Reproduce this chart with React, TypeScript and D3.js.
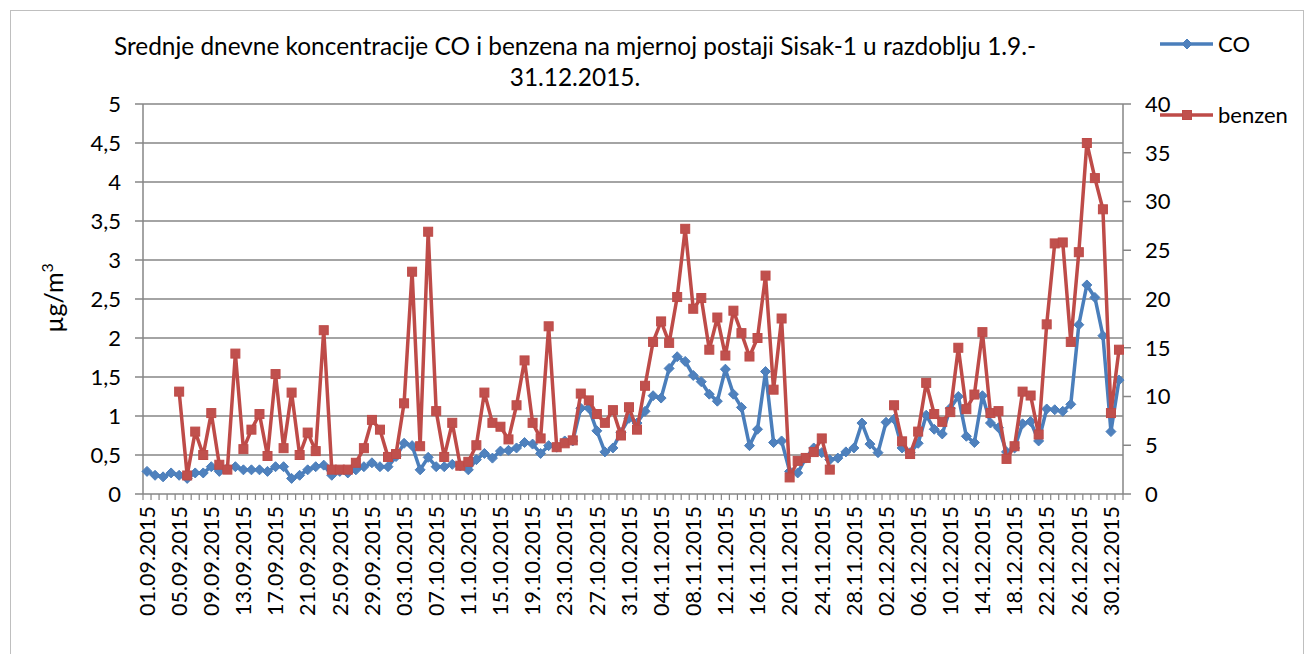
import React from 'react';
import * as d3 from 'd3';

// Categories: daily, 1.9.2015 – 31.12.2015
const days = d3.timeDay.range(new Date(2015, 8, 1), new Date(2016, 0, 1));
const fmt = d3.timeFormat('%d.%m.%Y');
const categories: string[] = days.map(fmt);

// CO (left axis, µg/m3 scale 0–5)
const coValues: number[] = [
  // September
  0.29, 0.24, 0.22, 0.27, 0.24, 0.20, 0.27, 0.27, 0.35, 0.29,
  0.33, 0.35, 0.31, 0.31, 0.31, 0.29, 0.35, 0.35, 0.20, 0.24,
  0.31, 0.35, 0.37, 0.24, 0.29, 0.27, 0.31, 0.35, 0.40, 0.35,
  // October
  0.35, 0.48, 0.65, 0.62, 0.31, 0.47, 0.35, 0.35, 0.38, 0.36,
  0.31, 0.44, 0.52, 0.46, 0.55, 0.56, 0.59, 0.66, 0.64, 0.52,
  0.62, 0.60, 0.68, 0.68, 1.10, 1.10, 0.81, 0.54, 0.59, 0.79,
  0.97,
  // November
  0.91, 1.06, 1.26, 1.23, 1.61, 1.76, 1.70, 1.52, 1.44, 1.28,
  1.19, 1.60, 1.28, 1.11, 0.62, 0.83, 1.57, 0.66, 0.68, 0.29,
  0.27, 0.46, 0.59, 0.53, 0.44, 0.46, 0.54, 0.59, 0.91, 0.64,
  // December
  0.53, 0.92, 0.96, 0.59, 0.53, 0.65, 1.01, 0.83, 0.77, 1.10,
  1.25, 0.74, 0.66, 1.26, 0.91, 0.85, 0.54, 0.59, 0.90, 0.93,
  0.68, 1.09, 1.08, 1.06, 1.15, 2.17, 2.68, 2.52, 2.03, 0.80,
  1.46,
];

// Benzen (right axis, 0–40); null = no measurement
const benzenValues: (number | null)[] = [
  // September
  null, null, null, null, 10.5, 1.9, 6.4, 4.0, 8.3, 3.0,
  2.5, 14.4, 4.6, 6.6, 8.2, 3.9, 12.3, 4.7, 10.4, 4.0,
  6.3, 4.4, 16.8, 2.5, 2.5, 2.5, 3.2, 4.7, 7.6, 6.6,
  // October
  3.8, 4.1, 9.3, 22.8, 4.9, 26.9, 8.5, 3.8, 7.3, 2.9,
  3.3, 5.0, 10.4, 7.3, 6.9, 5.6, 9.1, 13.7, 7.3, 5.7,
  17.2, 4.8, 5.2, 5.5, 10.3, 9.6, 8.2, 7.3, 8.6, 6.0,
  8.9,
  // November
  6.6, 11.1, 15.6, 17.7, 15.5, 20.2, 27.2, 19.0, 20.1, 14.8,
  18.1, 14.2, 18.8, 16.5, 14.1, 16.0, 22.4, 10.7, 18.0, 1.7,
  3.4, 3.7, 4.3, 5.7, 2.5, null, null, null, null, null,
  // December
  null, null, 9.1, 5.4, 4.1, 6.4, 11.4, 8.2, 7.4, 8.4,
  15.0, 8.7, 10.2, 16.6, 8.3, 8.5, 3.6, 4.9, 10.5, 10.1,
  6.1, 17.4, 25.7, 25.8, 15.6, 24.8, 36.0, 32.4, 29.2, 8.3,
  14.8,
];

const leftTicks = [0, 0.5, 1, 1.5, 2, 2.5, 3, 3.5, 4, 4.5, 5];
const rightTicks = [0, 5, 10, 15, 20, 25, 30, 35, 40];
const titleLines = [
  'Srednje dnevne koncentracije CO i benzena na mjernoj postaji Sisak-1 u razdoblju 1.9.-',
  '31.12.2015.',
];
const seriesNames = ['CO', 'benzen'];

const FONT = 'Lato, "Open Sans", sans-serif';
const CO_LINE = '#4a7ebb';
const CO_FILL = '#4f81bd';
const BZ_LINE = '#be4b48';
const BZ_FILL = '#c0504d';
const GRID = '#868686';

export default function App() {
  const L = 143, R = 1123, T = 104, B = 494;
  const x = d3.scaleBand<string>().domain(categories).range([L, R]);
  const cx = (c: string) => (x(c) as number) + x.bandwidth() / 2;
  const yL = d3.scaleLinear().domain([0, 5]).range([B, T]);
  const yR = d3.scaleLinear().domain([0, 40]).range([B, T]);

  const coLine = d3.line<number>()
    .x((_, i) => cx(categories[i]))
    .y((d) => yL(d));
  const bzLine = d3.line<number | null>()
    .defined((d) => d != null)
    .x((_, i) => cx(categories[i]))
    .y((d) => yR(d as number));

  const fmtTick = (v: number) => String(v).replace('.', ',');
  const diamond = (px: number, py: number, r: number) =>
    `M${px},${py - r}L${px + r},${py}L${px},${py + r}L${px - r},${py}Z`;

  return (
    <svg width={1307} height={654} style={{ position: 'absolute', left: 0, top: 0, background: '#fff' }}
      fontFamily={FONT}>
      <rect x={10.5} y={10.5} width={1293} height={660} fill="#fff" stroke="#bfbfbf" strokeWidth={1} />

      {/* Title */}
      <text x={575} y={55} textAnchor="middle" fontSize={24.4} fill="#000">{titleLines[0]}</text>
      <text x={575} y={86} textAnchor="middle" fontSize={24.4} fill="#000">{titleLines[1]}</text>

      {/* Gridlines */}
      {leftTicks.map((t) => (
        <line key={'g' + t} x1={L} x2={R} y1={yL(t)} y2={yL(t)} stroke={GRID} strokeWidth={1.5} />
      ))}
      {/* Axes */}
      <line x1={L} x2={L} y1={T} y2={B} stroke={GRID} strokeWidth={1.5} />
      <line x1={R} x2={R} y1={T} y2={B} stroke={GRID} strokeWidth={1.5} />
      {leftTicks.map((t) => (
        <g key={'lt' + t}>
          <line x1={L - 8} x2={L} y1={yL(t)} y2={yL(t)} stroke={GRID} strokeWidth={1.5} />
          <text x={L - 22} y={yL(t)} dy="0.36em" textAnchor="end" fontSize={22} fill="#000">{fmtTick(t)}</text>
        </g>
      ))}
      {rightTicks.map((t) => (
        <g key={'rt' + t}>
          <line x1={R} x2={R + 8} y1={yR(t)} y2={yR(t)} stroke={GRID} strokeWidth={1.5} />
          <text x={R + 22} y={yR(t)} dy="0.36em" textAnchor="start" fontSize={22} fill="#000">{t}</text>
        </g>
      ))}
      {/* x ticks at category boundaries */}
      {categories.concat(['__end']).map((c, i) => {
        const xx = i < categories.length ? (x(c) as number) : R;
        return <line key={'xt' + i} x1={xx} x2={xx} y1={B} y2={B + 6} stroke={GRID} strokeWidth={1.2} />;
      })}
      {/* x labels every 4th day */}
      {categories.map((c, i) =>
        i % 4 === 0 ? (
          <text key={'xl' + i} transform={`translate(${cx(c)},${B + 12}) rotate(-90)`} dy="0.36em"
            textAnchor="end" fontSize={21.5} fill="#000">{c}</text>
        ) : null
      )}

      {/* y axis title */}
      <text transform="translate(54,298) rotate(-90)" textAnchor="middle" dy="0.36em" fontSize={25} fill="#000">
        µg/m<tspan dy="-10" fontSize={16}>3</tspan>
      </text>

      {/* CO series */}
      <path d={coLine(coValues) || ''} fill="none" stroke={CO_LINE} strokeWidth={3.5} strokeLinejoin="round" />
      {coValues.map((v, i) => (
        <path key={'cm' + i} d={diamond(cx(categories[i]), yL(v), 5)} fill={CO_FILL} stroke={CO_LINE} strokeWidth={1} />
      ))}

      {/* Benzen series */}
      <path d={bzLine(benzenValues) || ''} fill="none" stroke={BZ_LINE} strokeWidth={3.5} strokeLinejoin="round" />
      {benzenValues.map((v, i) =>
        v == null ? null : (
          <rect key={'bm' + i} x={cx(categories[i]) - 4.5} y={yR(v) - 4.5} width={9} height={9}
            fill={BZ_FILL} stroke={BZ_LINE} strokeWidth={1} />
        )
      )}

      {/* Legend */}
      <g>
        <line x1={1160} x2={1213} y1={44} y2={44} stroke={CO_LINE} strokeWidth={3.5} />
        <path d={diamond(1187, 44, 5)} fill={CO_FILL} stroke={CO_LINE} strokeWidth={1} />
        <text x={1218} y={44} dy="0.36em" fontSize={22} fill="#000">{seriesNames[0]}</text>
        <line x1={1160} x2={1213} y1={115} y2={115} stroke={BZ_LINE} strokeWidth={3.5} />
        <rect x={1182.5} y={110.5} width={9} height={9} fill={BZ_FILL} stroke={BZ_LINE} strokeWidth={1} />
        <text x={1218} y={115} dy="0.36em" fontSize={22} fill="#000">{seriesNames[1]}</text>
      </g>
    </svg>
  );
}
